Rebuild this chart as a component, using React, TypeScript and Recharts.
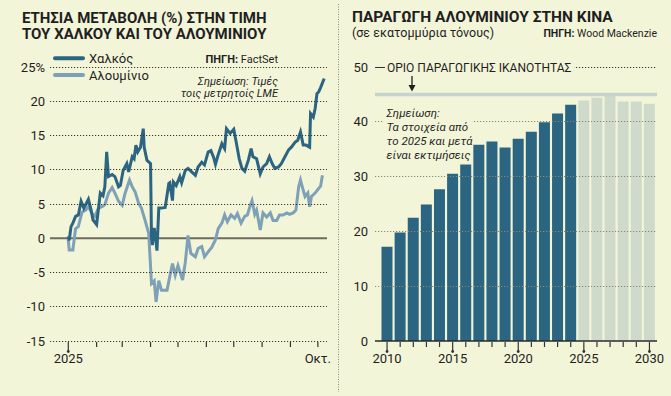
import React from "react";
import { LineChart, Line, BarChart, Bar, Cell, XAxis, YAxis, ReferenceLine } from "recharts";

const BG = "#f3f5d9";
const COPPER = "#2b6581";
const ALUMINUM = "#7fa1b7";
const PROJECTED = "#cfdacb";
const CAPACITY = "#c6d3ce";
const INK = "#1f1f1f";
const FONT = "Roboto, 'Liberation Sans', sans-serif";

// day of year 2025 -> yearly change (%)
const copperDays = [
  0, 1, 3, 5, 8, 11, 14, 17, 22, 25, 27, 31, 35, 38, 40, 42, 44, 48, 51, 55, 57, 60, 64, 66, 70, 72, 74, 76,
  79, 82, 83, 86, 90, 91, 92, 94, 96, 97, 99, 102, 106, 110, 111, 114, 115, 118, 122, 124, 128, 131, 135,
  139, 142, 146, 149, 153, 156, 159, 161, 164, 168, 171, 173, 177, 181, 184, 187, 190, 193, 197, 200, 202,
  206, 210, 213, 217, 220, 223, 226, 230, 233, 237, 241, 244, 248, 251, 254, 257, 260, 264, 265, 268, 270,
  272, 274, 276, 279, 280,
];
const copperValues = [
  0.3, -0.3, 1.7, 2.2, 3.2, 3.4, 5.4, 4.4, 5.7, 4.1, 2.7, 2.0, 6.6, 6.2, 7.5, 12.6, 9.0, 9.3, 9.0, 7.5, 7.7,
  9.9, 10.9, 9.7, 11.9, 11.6, 13.6, 12.6, 13.3, 16.0, 13.3, 11.4, 10.9, 0, -1, 1.5, -0.5, -1.8, 4.4, 4.4,
  4.5, 8.0, 8.1, 5.5, 8.2, 7.7, 9.0, 8.1, 9.9, 10.2, 9.7, 9.2, 10.4, 11.1, 10.7, 12.6, 12.8, 11.8, 10.8,
  12.2, 13.8, 13.1, 16.0, 15.3, 15.9, 13.8, 11.6, 10.2, 9.8, 11.4, 13.1, 11.9, 11.6, 9.4, 10.4, 10.9, 11.9,
  10.9, 10.2, 10.4, 10.9, 11.9, 12.9, 13.3, 14.0, 14.3, 15.5, 13.6, 13.6, 13.3, 18.2, 17.7, 18.9, 21.1,
  21.4, 22.0, 23.0, 23.3,
];
const aluminumDays = [
  0, 1, 5, 8, 11, 15, 19, 22, 26, 29, 33, 37, 40, 44, 48, 51, 55, 59, 62, 67, 70, 73, 77, 80, 84, 88, 91, 94,
  96, 99, 102, 108, 111, 114, 117, 120, 125, 128, 131, 134, 139, 142, 146, 149, 153, 157, 161, 164, 168,
  171, 174, 178, 182, 185, 189, 193, 196, 199, 201, 204, 206, 210, 213, 217, 221, 224, 228, 231, 235, 239,
  242, 246, 249, 252, 254, 257, 259, 262, 264, 266, 270, 274, 276, 278,
];
const aluminumValues = [
  -0.2, -1.7, -1.7, 1.4, 1.7, 3.8, 4.1, 4.6, 3.6, 3.2, 4.4, 4.6, 4.9, 6.6, 7.4, 6.6, 5.4, 4.8, 6.5, 8.5,
  7.5, 6.8, 5.1, 4.4, 2.6, 0.7, -6.6, -6.2, -9.3, -6.2, -7.6, -7.6, -5.6, -3.7, -5.4, -4.0, -6.1, -3.5, 0.4,
  -2.2, -2.7, -1.5, -1.2, -2.7, -2.0, -1.3, -0.2, 1.4, 2.2, 3.4, 2.4, 3.4, 2.9, 3.6, 2.2, 3.2, 3.4, 4.8, 5.5,
  3.5, 4.1, 1.2, 3.7, 3.1, 3.7, 2.6, 2.6, 3.4, 3.4, 3.7, 3.5, 3.7, 4.1, 7.5, 8.5, 7.0, 6.1, 6.6, 4.6, 6.1,
  6.6, 7.3, 7.6, 9.2,
];

const monthTicks = [0, 31, 59, 90, 120, 151, 181, 212, 243, 273];
const monthLabels = ["2025", "", "", "", "", "", "", "", "", "Οκτ."];
const changeTicks = [-15, -10, -5, 0, 5, 10, 15, 20, 25];

const years = [
  2010, 2011, 2012, 2013, 2014, 2015, 2016, 2017, 2018, 2019, 2020, 2021, 2022, 2023, 2024, 2025, 2026, 2027,
  2028, 2029, 2030,
];
const production = [
  17.2, 19.8, 22.5, 24.9, 27.7, 30.5, 32.2, 35.8, 36.4, 35.3, 36.9, 38.2, 39.9, 41.5, 43.1, 43.9, 44.4, 44.8,
  43.7, 43.7, 43.3,
];
const firstEstimateYear = 2025;
const capacity = 45;
const productionTicks = [0, 10, 20, 30, 40, 50];
const labelledYears = [2010, 2015, 2020, 2025, 2030];

const copperData = copperDays.map((day, i) => ({ day, value: copperValues[i] }));
const aluminumData = aluminumDays.map((day, i) => ({ day, value: aluminumValues[i] }));
const productionData = years.map((year, i) => ({ year, value: production[i] }));

// y-axis tick that also draws its dotted gridline across the plot
function GridTick({ x, y, payload, gap, gridWidth, stroke, format }: any) {
  const v = payload.value;
  const left = x + gap;
  const gy = Math.round(y - 0.5) + 0.5;
  return (
    <g>
      {v !== 0 && (
        <line
          x1={left}
          x2={left + gridWidth}
          y1={gy}
          y2={gy}
          stroke={typeof stroke === "function" ? stroke(v) : stroke}
          strokeWidth={1.2}
          strokeDasharray="1.2 1.8"
        />
      )}
      <text x={x} y={y} dy="0.36em" textAnchor="end" fontSize={13} fill={INK} fontFamily={FONT}>
        {format ? format(v) : v}
      </text>
    </g>
  );
}

function MonthTick({ x, y, payload }: any) {
  const i = monthTicks.indexOf(payload.value);
  const label = monthLabels[i];
  const major = i === 0;
  return (
    <g>
      <line x1={x} x2={x} y1={y + 1} y2={major ? y + 10 : y + 6} stroke="#333" strokeWidth={1.2} />
      {major && <circle cx={x} cy={y + 10.5} r={1.4} fill="#333" />}
      {label && (
        <text x={x} y={y + 22} textAnchor="middle" fontSize={13} fill={INK} fontFamily={FONT}>
          {label}
        </text>
      )}
    </g>
  );
}

function YearTick({ x, y, payload }: any) {
  const major = labelledYears.includes(payload.value);
  return (
    <g>
      <line x1={x} x2={x} y1={y + 1} y2={major ? y + 10 : y + 6} stroke="#333" strokeWidth={1.2} />
      {major && <circle cx={x} cy={y + 10.5} r={1.4} fill="#333" />}
      {major && (
        <text x={x} y={y + 22} textAnchor="middle" fontSize={13} fill={INK} fontFamily={FONT}>
          {payload.value}
        </text>
      )}
    </g>
  );
}

function ChangeChart() {
  return (
    <LineChart width={340} height={396} margin={{ top: 67, right: 13, bottom: 25, left: 0 }}>
      <YAxis
        type="number"
        domain={[-15, 25]}
        ticks={changeTicks}
        width={50}
        axisLine={false}
        tickLine={false}
        tickSize={3}
        tick={
          <GridTick gap={5} gridWidth={277} stroke="#3a3a34" format={(v: number) => (v === 25 ? "25%" : String(v))} />
        }
      />
      <XAxis
        type="number"
        dataKey="day"
        domain={[-20, 283]}
        ticks={monthTicks}
        interval={0}
        height={30}
        axisLine={false}
        tickLine={false}
        tickSize={0}
        tickMargin={0}
        tick={<MonthTick />}
        allowDuplicatedCategory={false}
      />
      <ReferenceLine y={0} stroke="#6c6c5c" strokeWidth={2} />
      <Line
        data={aluminumData}
        dataKey="value"
        type="linear"
        stroke={ALUMINUM}
        strokeWidth={3}
        dot={false}
        isAnimationActive={false}
      />
      <Line
        data={copperData}
        dataKey="value"
        type="linear"
        stroke={COPPER}
        strokeWidth={3}
        dot={false}
        isAnimationActive={false}
      />
    </LineChart>
  );
}

function ProductionChart() {
  return (
    <BarChart width={331} height={396} data={productionData} margin={{ top: 67, right: 14, bottom: 25, left: 0 }}>
      <YAxis
        type="number"
        domain={[0, 50]}
        ticks={productionTicks}
        width={35}
        axisLine={false}
        tickLine={false}
        tickSize={5}
        tick={<GridTick gap={7} gridWidth={282} stroke={(v: number) => (v === 50 ? "#333" : "#86867a")} />}
      />
      <XAxis
        dataKey="year"
        interval={0}
        height={30}
        padding={{ left: 5.5, right: 1 }}
        axisLine={{ stroke: "#2a2a2a", strokeWidth: 1.5 }}
        tickLine={false}
        tickSize={0}
        tickMargin={0}
        tick={<YearTick />}
      />
      <Bar dataKey="value" barSize={11} isAnimationActive={false}>
        {productionData.map((d) => (
          <Cell key={d.year} fill={d.year >= firstEstimateYear ? PROJECTED : COPPER} />
        ))}
      </Bar>
      <ReferenceLine y={capacity} stroke={CAPACITY} strokeWidth={3.5} />
    </BarChart>
  );
}

export default function App() {
  const t = { fontFamily: FONT, fill: INK };
  return (
    <div style={{ position: "absolute", left: 0, top: 0, width: 671, height: 396, background: BG, overflow: "hidden" }}>
      <div style={{ position: "absolute", left: 0, top: 0 }}>
        <ChangeChart />
      </div>
      <div style={{ position: "absolute", left: 340, top: 0 }}>
        <ProductionChart />
      </div>
      <svg width={671} height={396} style={{ position: "absolute", left: 0, top: 0, pointerEvents: "none" }}>
        <line x1={338.5} x2={338.5} y1={4} y2={392} stroke="#8a8a80" strokeDasharray="1 1.5" />

        {/* left panel */}
        <text x={22} y={22.5} fontSize={15} fontWeight={700} {...t}>ΕΤΗΣΙΑ ΜΕΤΑΒΟΛΗ (%) ΣΤΗΝ ΤΙΜΗ</text>
        <text x={22} y={38.5} fontSize={15} fontWeight={700} {...t}>ΤΟΥ ΧΑΛΚΟΥ ΚΑΙ ΤΟΥ ΑΛΟΥΜΙΝΙΟΥ</text>
        <line x1={55} x2={83} y1={58.3} y2={58.3} stroke={COPPER} strokeWidth={4} strokeLinecap="round" />
        <line x1={55} x2={83} y1={75} y2={75} stroke={ALUMINUM} strokeWidth={4} strokeLinecap="round" />
        <text x={89} y={62.5} fontSize={13} {...t}>Χαλκός</text>
        <text x={89} y={79.5} fontSize={13} {...t}>Αλουμίνιο</text>
        <text x={278} y={62.5} fontSize={11} textAnchor="end" {...t}>
          <tspan fontWeight={700}>ΠΗΓΗ:</tspan> FactSet
        </text>
        <text x={278} y={84.5} fontSize={11} fontStyle="italic" textAnchor="end" {...t}>Σημείωση: Τιμές</text>
        <text x={278} y={96.5} fontSize={11} fontStyle="italic" textAnchor="end" {...t}>τοις μετρητοίς LME</text>

        {/* right panel */}
        <text x={352} y={22} fontSize={15.5} fontWeight={700} {...t}>ΠΑΡΑΓΩΓΗ ΑΛΟΥΜΙΝΙΟΥ ΣΤΗΝ ΚΙΝΑ</text>
        <text x={352} y={36.5} fontSize={12.5} {...t}>(σε εκατομμύρια τόνους)</text>
        <text x={657} y={36.5} fontSize={10.5} textAnchor="end" {...t}>
          <tspan fontWeight={700}>ΠΗΓΗ:</tspan> Wood Mackenzie
        </text>
        <rect x={385} y={60} width={189} height={14} fill={BG} />
        <line x1={375} x2={385} y1={67.5} y2={67.5} stroke="#333" strokeWidth={1} />
        <text x={387} y={71.5} fontSize={12} {...t}>ΟΡΙΟ ΠΑΡΑΓΩΓΙΚΗΣ ΙΚΑΝΟΤΗΤΑΣ</text>
        <line x1={412} x2={412} y1={76} y2={87} stroke={INK} strokeWidth={1.3} />
        <path d="M408.5,85 L415.5,85 L412,91.5 Z" fill={INK} />
        <rect x={384} y={104} width={88} height={57} fill={BG} />
        <text x={386.5} y={116.5} fontSize={11.5} fontStyle="italic" {...t}>Σημείωση:</text>
        <text x={386.5} y={130.5} fontSize={11.5} fontStyle="italic" {...t}>Τα στοιχεία από</text>
        <text x={386.5} y={144.5} fontSize={11.5} fontStyle="italic" {...t}>το 2025 και μετά</text>
        <text x={386.5} y={158.5} fontSize={11.5} fontStyle="italic" {...t}>είναι εκτιμήσεις</text>
      </svg>
    </div>
  );
}
